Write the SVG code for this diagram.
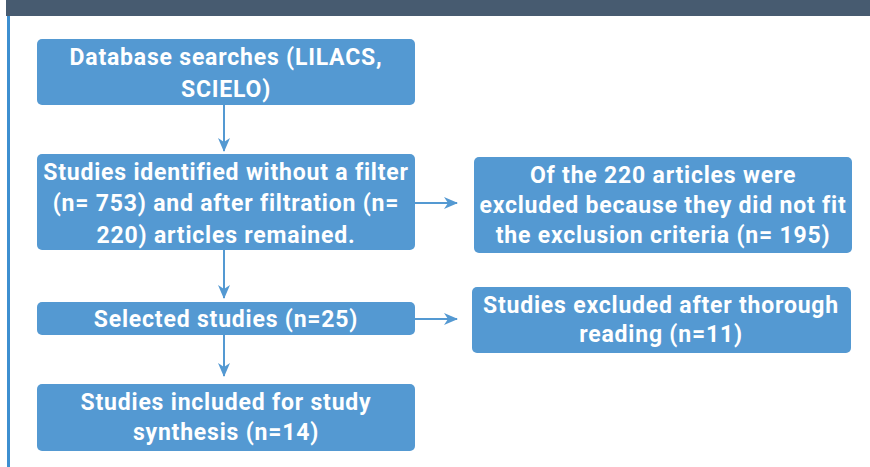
<svg xmlns="http://www.w3.org/2000/svg" width="870" height="467" viewBox="0 0 870 467">
<style>
.box{fill:#5499d2;}
.t{font-family:Roboto,"Liberation Sans",sans-serif;font-weight:700;font-size:23px;fill:#ffffff;text-anchor:middle;letter-spacing:0.8px;}
.c{stroke:#5499d2;stroke-width:2;fill:none;}
</style>
<defs>
<marker id="ah" viewBox="0 0 14 12" refX="13" refY="6" markerWidth="14" markerHeight="12" markerUnits="userSpaceOnUse" orient="auto">
<path d="M0,0 L14,6 L0,12 L4,6 Z" fill="#5499d2"/>
</marker>
</defs>
<rect x="0" y="0" width="870" height="467" fill="#ffffff"/>
<rect x="6" y="0" width="864" height="16" fill="#475b70"/>
<rect x="7" y="16" width="3" height="451" fill="#3d8fd0"/>
<g id="connectors">
<line class="c" x1="224" y1="105" x2="224" y2="151" marker-end="url(#ah)"/>
<line class="c" x1="415" y1="203" x2="457" y2="203" marker-end="url(#ah)"/>
<line class="c" x1="224" y1="250" x2="224" y2="298" marker-end="url(#ah)"/>
<line class="c" x1="415" y1="319" x2="457" y2="319" marker-end="url(#ah)"/>
<line class="c" x1="224" y1="335" x2="224" y2="376" marker-end="url(#ah)"/>
</g>
<g id="n1">
<rect class="box" x="37" y="39" width="378" height="66" rx="5"/>
<text class="t" x="226" y="65">Database searches (LILACS,</text>
<text class="t" x="226" y="96.5">SCIELO)</text>
</g>
<g id="n2">
<rect class="box" x="37" y="154" width="378" height="96" rx="5"/>
<text class="t" x="226" y="180">Studies identified without a filter</text>
<text class="t" x="226" y="211">(n= 753) and after filtration (n=</text>
<text class="t" x="226" y="243">220) articles remained.</text>
</g>
<g id="n3">
<rect class="box" x="474" y="157" width="378" height="96" rx="5"/>
<text class="t" x="663" y="183">Of the 220 articles were</text>
<text class="t" x="663" y="213">excluded because they did not fit</text>
<text class="t" x="663" y="243">the exclusion criteria (n= 195)</text>
</g>
<g id="n4">
<rect class="box" x="37" y="302" width="378" height="33" rx="5"/>
<text class="t" x="226" y="327">Selected studies (n=25)</text>
</g>
<g id="n5">
<rect class="box" x="472" y="287" width="379" height="66" rx="5"/>
<text class="t" x="661" y="313">Studies excluded after thorough</text>
<text class="t" x="661" y="342">reading (n=11)</text>
</g>
<g id="n6">
<rect class="box" x="37" y="384" width="378" height="67" rx="5"/>
<text class="t" x="226" y="410">Studies included for study</text>
<text class="t" x="226" y="440">synthesis (n=14)</text>
</g>
</svg>
